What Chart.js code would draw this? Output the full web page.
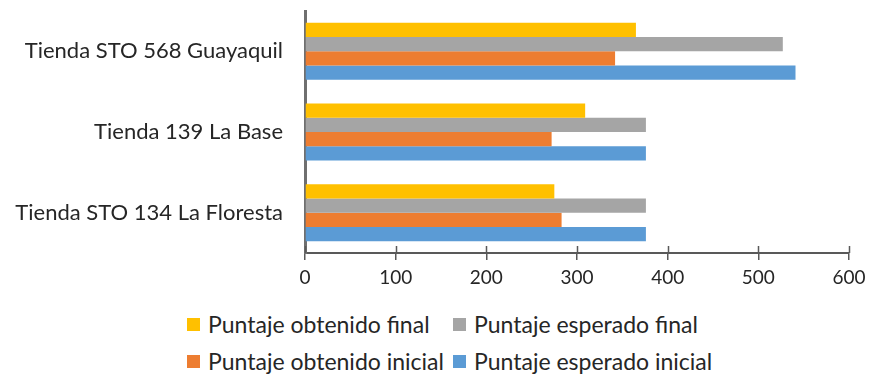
<!DOCTYPE html>
<html>
<head>
<meta charset="utf-8">
<script src="https://cdn.jsdelivr.net/npm/chart.js@4.4.1/dist/chart.umd.min.js"></script>
<style>
  html, body { margin: 0; padding: 0; background: #fff; }
  #wrap { position: relative; width: 872px; height: 375px; overflow: hidden; }
  #chart-box { position: absolute; left: 0; top: 0; width: 872px; height: 300px; }
  #legend {
    position: absolute; left: 187px; top: 310px;
    display: grid; grid-template-columns: 266px auto; grid-auto-rows: 29px; row-gap: 8px;
    font-family: Lato, "Noto Sans", sans-serif; font-size: 23px; line-height: 29px; color: #262626;
  }
  #legend .item { display: flex; align-items: center; white-space: nowrap; }
  #legend .box { width: 13px; height: 13px; margin-right: 8px; flex: none; }
</style>
</head>
<body>
<div id="wrap">
  <div id="chart-box"><canvas id="c"></canvas></div>
  <div id="legend"></div>
</div>
<script>
  // Stores (top to bottom)
  const tiendas = ['Tienda STO 568 Guayaquil', 'Tienda 139 La Base', 'Tienda STO 134 La Floresta'];

  // Scores per store
  const obtenidoFinal   = [365, 309, 275];
  const esperadoFinal   = [527, 376, 376];
  const obtenidoInicial = [342, 272, 283];
  const esperadoInicial = [541, 376, 376];

  const xTicks = [0, 100, 200, 300, 400, 500, 600];

  const COLORS = {
    yellow: '#FFC000',
    gray:   '#A5A5A5',
    orange: '#ED7D31',
    blue:   '#5B9BD5',
    text:   '#262626',
    axis:   '#595959',
    yAxis:  '#6f6f6f'
  };

  const FONT = 'Lato, "Noto Sans", sans-serif';

  // Tick marks on the value axis cross the axis line, so draw the upper half here
  const crossTicks = {
    id: 'crossTicks',
    afterDraw(chart) {
      const x = chart.scales.x;
      const ctx = chart.ctx;
      const y0 = x.top;
      ctx.save();
      ctx.strokeStyle = COLORS.axis;
      ctx.lineWidth = 1.5;
      ctx.beginPath();
      x.ticks.forEach(function (t) {
        const px = Math.round(x.getPixelForValue(t.value)) + 0.5;
        ctx.moveTo(px, y0 - 7);
        ctx.lineTo(px, y0);
      });
      ctx.stroke();
      ctx.restore();
    }
  };

  const chart = new Chart(document.getElementById('c'), {
    type: 'bar',
    data: {
      labels: tiendas,
      datasets: [
        { label: 'Puntaje obtenido final',   data: obtenidoFinal,   backgroundColor: COLORS.yellow },
        { label: 'Puntaje esperado final',   data: esperadoFinal,   backgroundColor: COLORS.gray },
        { label: 'Puntaje obtenido inicial', data: obtenidoInicial, backgroundColor: COLORS.orange },
        { label: 'Puntaje esperado inicial', data: esperadoInicial, backgroundColor: COLORS.blue }
      ]
    },
    options: {
      indexAxis: 'y',
      responsive: true,
      maintainAspectRatio: false,
      animation: false,
      datasets: { bar: { categoryPercentage: 0.706, barPercentage: 1, borderWidth: 0 } },
      layout: { padding: { top: 11, right: 23, left: 0, bottom: 0 } },
      plugins: { legend: { display: false }, tooltip: { enabled: false } },
      scales: {
        x: {
          min: 0, max: 600,
          afterBuildTicks(s) { s.ticks = xTicks.map(function (v) { return { value: v }; }); },
          afterFit(s) { s.height = 47; },
          grid: { drawOnChartArea: false, drawTicks: true, tickLength: 7, color: COLORS.axis, lineWidth: 1.5 },
          border: { display: true, color: COLORS.axis, width: 2 },
          ticks: { color: COLORS.text, font: { family: FONT, size: 19 }, padding: 6 }
        },
        y: {
          afterFit(s) { s.width = 305; s.paddingTop = 0; s.paddingBottom = 0; },
          grid: { display: false, drawTicks: false },
          border: { display: true, color: COLORS.yAxis, width: 3 },
          ticks: { color: COLORS.text, font: { family: FONT, size: 22 }, padding: 22 }
        }
      }
    },
    plugins: [crossTicks]
  });

  // Two-column legend below the plot
  const legendEl = document.getElementById('legend');
  chart.data.datasets.forEach(function (ds) {
    const item = document.createElement('div');
    item.className = 'item';
    const box = document.createElement('span');
    box.className = 'box';
    box.style.background = ds.backgroundColor;
    const txt = document.createElement('span');
    txt.textContent = ds.label;
    item.appendChild(box);
    item.appendChild(txt);
    legendEl.appendChild(item);
  });
</script>
</body>
</html>
